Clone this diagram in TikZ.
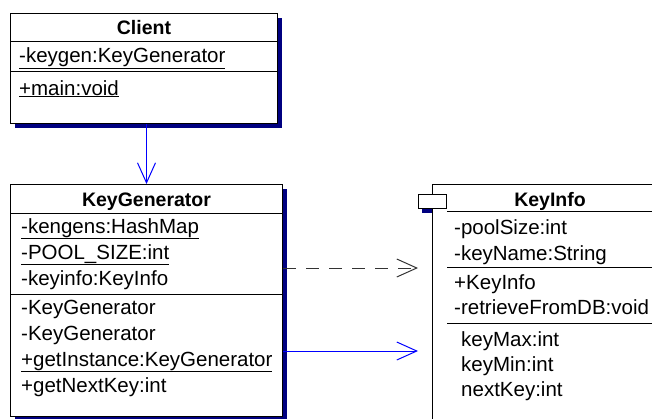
\documentclass[tikz,border=0pt]{standalone}
\usepackage{fontspec}
\setmainfont{Liberation Sans}
\usepackage{tikz}
\usetikzlibrary{arrows.meta,positioning,calc,shadows}
\definecolor{umlblue}{RGB}{0,0,255}
\definecolor{umlnavy}{RGB}{0,0,128}
\newcommand\memberfont{\fontsize{20.5}{24}\selectfont}
\newcommand\titlefont{\fontsize{19.5}{23}\selectfont\bfseries}
\tikzset{
	classbox/.style={draw=black, fill=white, line width=1pt, inner sep=0pt,
		drop shadow={shadow xshift=4.5pt, shadow yshift=-4.5pt, fill=umlnavy, opacity=1}},
	classtitle/.style={inner sep=0pt, anchor=base, font=\titlefont},
	member/.style={inner sep=0pt, anchor=base west, font=\memberfont},
	sepline/.style={draw=black, line width=1pt},
	assoc/.style={-{Straight Barb[length=20pt, width=18pt, line width=1pt]}, umlblue, line width=1pt},
	depends/.style={-{Straight Barb[length=20pt, width=18pt, line width=1pt]}, black!80,
		line width=1pt, dash pattern=on 13pt off 10pt}
}
\begin{document}
\begin{tikzpicture}[x=1pt, y=-1pt]
	\useasboundingbox (0,0) rectangle (652,418);
	
	%% -- Client class (top left)
	\node[classbox, minimum width=267pt, minimum height=110pt, anchor=north west] (client) at (10,13) {};
	\node[classtitle] (client-title) at ($(client.north)+(0,21)$) {Client};
	\draw[sepline] ($(client.north west)+(0,28)$) -- ($(client.north east)+(0,28)$);
	\node[member] (client-attr) at ($(client.north west)+(9,49.5)$) {\underline{-keygen:KeyGenerator}};
	\draw[sepline] ($(client.north west)+(0,58)$) -- ($(client.north east)+(0,58)$);
	\node[member] (client-op) at ($(client.north west)+(9,82)$) {\underline{+main:void}};
	
	%% -- KeyGenerator class (below the client)
	\node[classbox, minimum width=272pt, minimum height=232pt,
	below=60pt of client.south west, anchor=north west] (gen) {};
	\node[classtitle] (gen-title) at ($(gen.north)+(0,22)$) {KeyGenerator};
	\draw[sepline] ($(gen.north west)+(0,29)$) -- ($(gen.north east)+(0,29)$);
	\foreach \txt [count=\i] in {\underline{-kengens:HashMap}, \underline{-POOL\_SIZE:int}, -keyinfo:KeyInfo}
	\node[member] (gen-attr-\i) at ($(gen.north west)+(11,23+26*\i)$) {\txt};
	\draw[sepline] ($(gen.north west)+(0,110)$) -- ($(gen.north east)+(0,110)$);
	\foreach \txt [count=\i] in {-KeyGenerator, -KeyGenerator, \underline{+getInstance:KeyGenerator}, +getNextKey:int}
	\node[member] (gen-op-\i) at ($(gen.north west)+(11,104+26*\i)$) {\txt};
	
	%% -- KeyInfo class (right, runs past the edge)
	\node[draw=black, fill=white, line width=1pt, inner sep=0pt, minimum width=240pt,
	minimum height=260pt, right=149pt of gen.north east, anchor=north west] (keyinfo) {};
	\node[draw=black, fill=white, line width=1pt, inner sep=0pt, minimum width=28pt,
	minimum height=14pt, anchor=north west] (tab) at ($(keyinfo.north west)+(-14,10)$) {};
	\fill[umlnavy] ([xshift=4pt]tab.south west) rectangle ([yshift=-4pt]tab.south -| keyinfo.west);
	\node[classtitle] (info-title) at ($(keyinfo.north west)+(118,22)$) {KeyInfo};
	\draw[sepline] (tab.east |- 0,211) -- (keyinfo.east |- 0,211);
	\foreach \txt [count=\i] in {-poolSize:int, -keyName:String}
	\node[member] (info-attr-\i) at ($(keyinfo.north west)+(22,24+26*\i)$) {\txt};
	\draw[sepline] (tab.east |- 0,267) -- (keyinfo.east |- 0,267);
	\foreach \txt [count=\i] in {+KeyInfo, -retrieveFromDB:void}
	\node[member] (info-op-\i) at ($(keyinfo.north west)+(22,80+25*\i)$) {\txt};
	\draw[sepline] (tab.east |- 0,323) -- (keyinfo.east |- 0,323);
	\foreach \txt [count=\i] in {keyMax:int, keyMin:int, nextKey:int}
	\node[member] (info-prop-\i) at ($(keyinfo.north west)+(29,137+25*\i)$) {\txt};
	
	%% -- Connectors
	\draw[assoc] (gen.north |- client.south) -- (gen.north);
	\coordinate (dep-end) at (tab.west |- 0,268);
	\coordinate (use-end) at (tab.west |- 0,351);
	\draw[depends] (gen.east |- dep-end) -- (dep-end);
	\draw[assoc] (gen.east |- use-end) -- (use-end);
	
\end{tikzpicture}
\end{document}
